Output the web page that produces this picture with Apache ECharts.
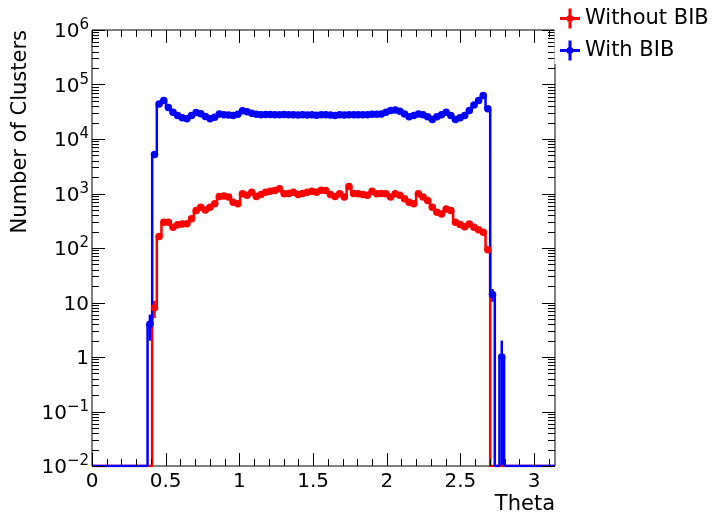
<!DOCTYPE html>
<html><head><meta charset="utf-8">
<script src="https://cdn.jsdelivr.net/npm/echarts@6/dist/echarts.min.js"></script>
<style>html,body{margin:0;padding:0;background:#fff}#c{width:716px;height:518px}</style>
</head><body><div id="c"></div>
<script>
// ---- data ----
const nBins = 100;
const thetaMin = 0;
const thetaMax = Math.PI;
const seriesNames = ['Without BIB', 'With BIB'];
const seriesColors = ['#ff0000', '#0000ff'];

// counts per theta bin (bin 0 .. 99)
const withoutBIB = [
  0,0,0,0,0,0,0,0,0,0, 0,0,0,
  8,163,297,297,241,267,275,280,343,488,561,500,561,647,881,900,860,692,647,987,930,1057,
  880,960,1050,1100,1130,1220,987,1000,1050,960,1000,1050,1100,1050,1150,1130,
  960,880,987,860,1340,1000,987,960,930,1100,987,1000,987,860,987,930,800,692,647,987,
  860,745,561,454,420,520,488,297,270,245,275,241,216,195,93,
  0,0,0,0,0,0,0,0,0,0,0,0,0,0
];
const withBIB = [
  0,0,0,0,0,0,0,0,0,0, 0,0,
  4,5200,44000,51000,38000,31000,27000,24600,23500,27000,30500,29000,25800,23500,25000,28800,
  28000,27500,27000,28500,33000,31500,29700,28500,28000,28200,28300,27800,28000,28200,27800,
  28000,27600,27800,27500,27800,27300,27800,28000,27500,27000,27800,27500,28000,27800,28000,
  27800,28000,28500,28500,28800,31000,33300,34000,32300,28800,25600,27000,28800,28000,25600,
  22800,25600,27800,31000,27000,22800,24500,27000,33300,42000,50800,62800,35800,14,
  0,1,
  0,0,0,0,0,0,0,0,0,0,0
];
// visible error bars: [bin, error]
const withoutBIBErrors = [[13, 2.8]];
const withBIBErrors = [[12, 2], [86, 3.7], [88, 1]];

const xTickLabels = ['0', '0.5', '1', '1.5', '2', '2.5', '3'];
const yDecades = [-2, -1, 0, 1, 2, 3, 4, 5, 6];

// ---- helpers ----
const FONT = 'DejaVu Sans';
const yMin = Math.pow(10, yDecades[0]);
const yMax = Math.pow(10, yDecades[yDecades.length - 1]);
const binW = (thetaMax - thetaMin) / nBins;

function stepPoints(vals) {
  const pts = [];
  vals.forEach((v, i) => {
    const lo = thetaMin + i * binW, hi = lo + binW, y = v > 0 ? v : yMin;
    pts.push([lo, y], [hi, y]);
  });
  return pts;
}
function markerPoints(vals) {
  return vals.map((v, i) => [thetaMin + (i + 0.5) * binW, v]).filter(p => p[1] > 0);
}
function errorPoints(vals, errs) {
  return errs.map(([b, e]) => [thetaMin + (b + 0.5) * binW, vals[b], e]);
}

// tick marks (ROOT style, inside, on all four sides)
const tickData = [];
for (let k = 0; k <= 31; k++) tickData.push([k / 10, 1, (k % 5 === 0) ? 0 : 1]);
for (let i = 0; i < yDecades.length; i++) {
  const base = Math.pow(10, yDecades[i]);
  tickData.push([1, base, 2]);
  if (i < yDecades.length - 1) for (let m = 2; m <= 9; m++) tickData.push([1, m * base, 3]);
}

function renderTick(params, api) {
  const cs = params.coordSys;
  const kind = api.value(2);
  const st = { stroke: '#000', lineWidth: 1 };
  if (kind < 2) {
    const len = kind === 0 ? 13 : 7;
    const x = Math.round(api.coord([api.value(0), 1])[0]) + 0.5;
    const yb = cs.y + cs.height, yt = cs.y;
    return { type: 'group', children: [
      { type: 'line', shape: { x1: x, y1: yb, x2: x, y2: yb - len }, style: st },
      { type: 'line', shape: { x1: x, y1: yt, x2: x, y2: yt + len }, style: st }
    ]};
  } else {
    const len = kind === 2 ? 13 : 7;
    const y = Math.round(api.coord([1, api.value(1)])[1]) + 0.5;
    const xl = cs.x, xr = cs.x + cs.width;
    return { type: 'group', children: [
      { type: 'line', shape: { x1: xl, y1: y, x2: xl + len, y2: y }, style: st },
      { type: 'line', shape: { x1: xr, y1: y, x2: xr - len, y2: y }, style: st }
    ]};
  }
}

function makeErrRender(color) {
  return function (params, api) {
    const x = api.value(0), v = api.value(1), e = api.value(2);
    const p1 = api.coord([x, Math.max(v - e, yMin)]);
    const p2 = api.coord([x, v + e]);
    return { type: 'line', shape: { x1: p1[0], y1: p1[1], x2: p2[0], y2: p2[1] },
      style: { stroke: color, lineWidth: 2.5 } };
  };
}

const plusIcon = 'path://M0,8.5H20V11.5H0Z M8.5,0H11.5V20H8.5Z M10,6.5A3.5,3.5,0,1,1,9.99,6.5Z';

const allVals = [withoutBIB, withBIB];
const allErrs = [withoutBIBErrors, withBIBErrors];
const series = [];
for (let s = 0; s < 2; s++) {
  const c = seriesColors[s];
  series.push({
    name: seriesNames[s], type: 'line', data: stepPoints(allVals[s]), showSymbol: false, symbol: 'none',
    lineStyle: { color: c, width: 2.5 }, itemStyle: { color: c }, animation: false, z: 3
  });
  series.push({
    name: seriesNames[s] + ' markers', type: 'scatter', data: markerPoints(allVals[s]),
    symbol: 'circle', symbolSize: 7.5, itemStyle: { color: c, opacity: 1 }, animation: false, z: 3
  });
  series.push({
    name: seriesNames[s] + ' errors', type: 'custom', data: errorPoints(allVals[s], allErrs[s]),
    renderItem: makeErrRender(c), animation: false, z: 3
  });
}
series.push({ name: 'ticks', type: 'custom', data: tickData, renderItem: renderTick,
  clip: false, animation: false, silent: true, z: 4 });

const chart = echarts.init(document.getElementById('c'), null, { renderer: 'canvas' });
chart.setOption({
  animation: false,
  backgroundColor: '#fff',
  grid: { left: 92, right: 161, top: 30, bottom: 52, show: true, borderColor: '#000', borderWidth: 1,
    backgroundColor: 'transparent', containLabel: false },
  xAxis: {
    type: 'value', min: thetaMin, max: thetaMax, interval: 0.5,
    axisLine: { show: false }, axisTick: { show: false }, splitLine: { show: false },
    axisLabel: { showMaxLabel: false, margin: 6, fontSize: 20, fontFamily: FONT, color: '#000',
      formatter: v => xTickLabels[Math.round(v / 0.5)] || '' },
    name: 'Theta', nameLocation: 'end', nameGap: 0, nameMoveOverlap: false,
    nameTextStyle: { fontSize: 21, fontFamily: FONT, color: '#000', align: 'right', verticalAlign: 'top',
      padding: [28, 0, 0, 0] }
  },
  yAxis: {
    type: 'log', logBase: 10, min: yMin, max: yMax,
    axisLine: { show: false }, axisTick: { show: false }, splitLine: { show: false },
    axisLabel: {
      margin: 3, color: '#000',
      formatter: v => {
        const n = Math.round(Math.log10(v));
        if (n === 0) return '{b|1}';
        if (n === 1) return '{b|10}';
        return '{b|10}{s|' + (n < 0 ? '\u2212' + (-n) : n) + '}';
      },
      rich: {
        b: { fontSize: 20, fontFamily: FONT, color: '#000', lineHeight: 24, verticalAlign: 'bottom' },
        s: { fontSize: 15, fontFamily: FONT, color: '#000', lineHeight: 15, verticalAlign: 'top' }
      }
    }
  },
  legend: {
    data: seriesNames.map(n => ({ name: n, icon: plusIcon })),
    orient: 'vertical', left: 555, top: 3, itemWidth: 20, itemHeight: 20, itemGap: 11,
    selectedMode: false, z: 20,
    textStyle: { fontSize: 21, fontFamily: FONT, color: '#000' }
  },
  graphic: [
    { type: 'rect', z: 10, shape: { x: 554.5, y: 0, width: 162, height: 64 }, style: { fill: '#fff' } },
    { type: 'text', z: 10, x: 21, y: 30, rotation: Math.PI / 2,
      style: { text: 'Number of Clusters', fontSize: 21, fontFamily: FONT, fill: '#000',
        align: 'right', verticalAlign: 'middle' } }
  ],
  series: series
});
</script>
</body></html>
